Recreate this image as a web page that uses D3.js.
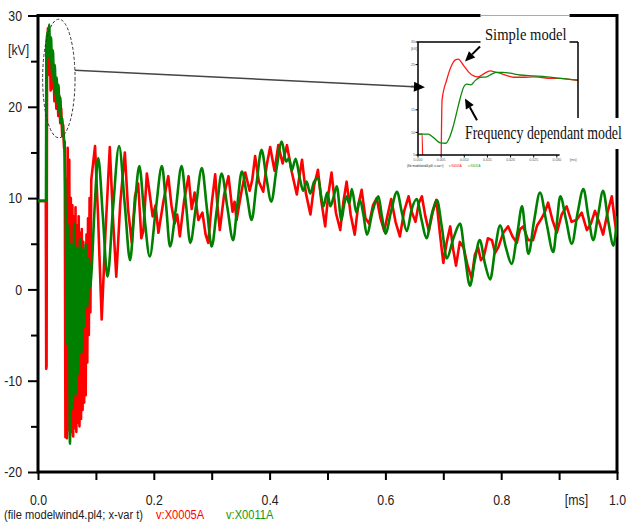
<!DOCTYPE html>
<html>
<head>
<meta charset="utf-8">
<script src="https://cdn.jsdelivr.net/npm/d3@7"></script>
<style>
  body { margin: 0; background: #fff; }
  svg { display: block; }
  .narrow { font-family: "Liberation Sans", Arial, sans-serif; }
  .serif { font-family: "Liberation Serif", "Times New Roman", serif; }
</style>
</head>
<body>
<div id="chart"></div>
<script>
// red trace, v:X0005A (simple model) : [t ms, kV]
const simpleModel = [
  [0, 9.7], [0.0135, 9.7], [0.0142, -8.7], [0.0148, -8.4], [0.0156, 24], [0.0172, 28.6], [0.0188, 23.5],
  [0.0203, 27.2], [0.0218, 21.8], [0.0234, 25.6], [0.025, 22], [0.0266, 24.2], [0.0283, 20.6], [0.03, 23],
  [0.0317, 19.8], [0.0334, 22.4], [0.035, 19], [0.0367, 21.2], [0.0384, 18.2], [0.04, 19.8], [0.0418, 16.8],
  [0.0434, 18], [0.045, 15.5], [0.0462, 16.2],
  [0.0474, -16.2], [0.0487, 12], [0.05, -16.3], [0.0513, 15.5], [0.0527, -15.4], [0.054, 14.2], [0.0554, -16],
  [0.0567, 10], [0.0581, -15.6], [0.0594, 9.2], [0.0608, -16.1], [0.0621, 8], [0.0635, -15.2], [0.0648, 9],
  [0.0662, -15.6], [0.0675, 7], [0.0689, -14.6], [0.0702, 8], [0.0716, -15], [0.0729, 6.2], [0.0743, -14.2],
  [0.0756, 6.6], [0.077, -13.2], [0.0783, 5.2], [0.0797, -12.4], [0.081, 4.2], [0.0824, -11.6], [0.0837, 6],
  [0.0851, -8], [0.0864, 7.8], [0.0878, -5], [0.0891, 10], [0.0905, -2.5], [0.092, 12],
  [0.0985, 15.7], [0.1035, 8.4], [0.11, -3.3], [0.1165, 6.2], [0.124, 15.6], [0.1295, 7.8], [0.1352, 1.4],
  [0.142, 9.4], [0.15, 15], [0.1555, 8.8], [0.162, 5.1], [0.1675, 10.2], [0.173, 11.6], [0.1785, 5.6],
  [0.182, 6.4], [0.188, 12.7], [0.1935, 10.2], [0.198, 8], [0.203, 9.2], [0.208, 6.2], [0.2165, 9.6],
  [0.225, 12.4], [0.2305, 9.2], [0.236, 7.2], [0.2405, 8.2], [0.245, 5.8], [0.2525, 9.8], [0.26, 12.4],
  [0.2655, 8.8], [0.2705, 10.6], [0.277, 7.6], [0.284, 8.4], [0.2895, 6], [0.294, 5.1], [0.3, 9.4],
  [0.306, 12.6], [0.31, 9], [0.314, 6.5], [0.3215, 10.4], [0.329, 12.4], [0.336, 8.5], [0.3395, 9.6],
  [0.343, 7.6], [0.3505, 10.4], [0.358, 12.8], [0.3655, 10.8], [0.37, 12], [0.375, 14.6], [0.3815, 11.8],
  [0.389, 10.7], [0.395, 13.6], [0.401, 15.6], [0.4085, 13], [0.415, 15.8], [0.4225, 13.8], [0.43, 15.8],
  [0.4385, 12.8], [0.447, 10.4], [0.4515, 12.4], [0.456, 14.2], [0.4625, 10.6], [0.4705, 8.2], [0.477, 11.4],
  [0.4835, 13.1], [0.4895, 9.6], [0.496, 6.9], [0.501, 10.2], [0.507, 12.8], [0.5145, 8.4], [0.522, 6.5],
  [0.5275, 9.6], [0.533, 11.8], [0.54, 8.2], [0.547, 6], [0.553, 9.2], [0.559, 10.9], [0.5655, 7.8],
  [0.572, 7.2], [0.5785, 9.2], [0.585, 10], [0.5915, 7.8], [0.598, 6.4], [0.604, 8.2], [0.61, 9.9],
  [0.6175, 7.4], [0.625, 5.8], [0.6325, 8.6], [0.64, 10.2], [0.646, 8.4], [0.652, 7.4], [0.6575, 9.4],
  [0.663, 10.2], [0.669, 8], [0.675, 6.4], [0.6815, 8.4], [0.688, 9.8], [0.694, 6.2], [0.7, 2.9],
  [0.706, 5.2], [0.712, 6.9], [0.717, 4.4], [0.722, 2.6], [0.7285, 5.2], [0.735, 4.6], [0.742, 2.6],
  [0.749, 1.2], [0.7545, 3.8], [0.76, 4.6], [0.765, 3.2], [0.77, 3.6], [0.777, 5.6], [0.784, 5.4],
  [0.7895, 4], [0.795, 4.6], [0.8035, 6.2], [0.812, 6.9], [0.8195, 5.8], [0.827, 5.1], [0.8325, 6.6],
  [0.838, 6.9], [0.8465, 5.4], [0.855, 5.4], [0.862, 7], [0.868, 7.6], [0.875, 8.4], [0.881, 9.5],
  [0.8885, 7.6], [0.896, 6.2], [0.9045, 8.2], [0.913, 9.1], [0.9215, 7.4], [0.93, 7.6], [0.939, 8.4],
  [0.948, 6.5], [0.955, 7.2], [0.962, 8.6], [0.969, 7.4], [0.976, 6], [0.9835, 8.4], [0.991, 10.2],
  [0.996, 7.6], [1.0, 5.8]
];

// green trace, v:X0011A (frequency dependant model)
const freqModel = [
  [0, 9.7], [0.0138, 9.7], [0.0144, 26.6], [0.0162, 28.2], [0.0178, 25.6], [0.0194, 29], [0.021, 25],
  [0.0226, 27.6], [0.0242, 23.6], [0.0258, 26.2], [0.0274, 22.6], [0.029, 24.6], [0.0306, 21.2],
  [0.0322, 23.2], [0.0338, 20.4], [0.0354, 22.4], [0.037, 19.4], [0.0386, 21], [0.0402, 18.2],
  [0.0418, 18.8], [0.0434, 17.4], [0.0448, 16.6], [0.0462, 14.4], [0.048, 8],
  [0.0505, -6], [0.053, 7], [0.0552, -16.9], [0.0575, 5], [0.06, -13], [0.0625, 7.2], [0.065, -11.6],
  [0.0675, 4.6], [0.07, -9.2], [0.0725, 5.6], [0.075, -7], [0.0775, 4.4], [0.08, -4], [0.0825, 5],
  [0.085, -2], [0.0875, 3.4], [0.09, 0.2], [0.092, 1.5],
  [0.0975, 8.6], [0.104, 14.4], [0.112, 8], [0.12, 1.4], [0.1295, 8.8], [0.14, 15.7], [0.15, 9.2],
  [0.159, 3.2], [0.1665, 8.6], [0.175, 13.5], [0.1835, 8.2], [0.193, 3.6], [0.2035, 8.8], [0.214, 13.5],
  [0.221, 9.4], [0.228, 4.7], [0.238, 8.8], [0.248, 13.5], [0.2555, 9.4], [0.263, 5.1], [0.273, 9.2],
  [0.283, 13.3], [0.2915, 9], [0.3, 4.7], [0.3085, 8.6], [0.317, 12.7], [0.327, 9], [0.337, 5.4],
  [0.3445, 9.4], [0.352, 12.9], [0.3605, 10.4], [0.369, 7.6], [0.3775, 11.6], [0.386, 15.3], [0.3945, 12.2],
  [0.403, 9.6], [0.412, 13.2], [0.421, 16.2], [0.4285, 14], [0.4335, 14.4], [0.438, 13], [0.445, 14.3],
  [0.452, 12.2], [0.458, 10.8], [0.464, 11.8], [0.47, 10.5], [0.477, 11.8], [0.484, 12.2], [0.4885, 10.4],
  [0.493, 9.1], [0.4995, 10.6], [0.505, 9.1], [0.51, 10], [0.516, 11.3], [0.524, 7.6], [0.5285, 9.2],
  [0.533, 10.2], [0.5375, 9.4], [0.542, 11], [0.55, 8.4], [0.556, 9.8], [0.562, 8.2], [0.568, 6],
  [0.578, 8.6], [0.588, 10.2], [0.594, 8], [0.6, 6.1], [0.61, 8.6], [0.62, 10.7], [0.6285, 8.4],
  [0.637, 6.4], [0.6455, 8.8], [0.654, 9.9], [0.6625, 7.6], [0.671, 5.6], [0.68, 8.2], [0.689, 9.8],
  [0.6975, 6.8], [0.706, 3.4], [0.7175, 5.6], [0.729, 7.2], [0.7375, 3.6], [0.746, 0.4], [0.7545, 3.2],
  [0.763, 5.4], [0.772, 2.8], [0.781, 1.1], [0.7895, 4.4], [0.798, 7], [0.808, 4.6], [0.818, 2.8],
  [0.828, 6.2], [0.836, 9.1], [0.8415, 6.4], [0.847, 3.9], [0.857, 7.6], [0.867, 10.6], [0.8785, 7.2],
  [0.89, 4.1], [0.896, 7.2], [0.902, 10.2], [0.912, 7.6], [0.922, 5], [0.932, 8.4], [0.942, 11],
  [0.9505, 8], [0.959, 5.4], [0.9675, 8.2], [0.976, 10.8], [0.985, 7.4], [0.994, 4.8], [1.0, 8]
];

// zoomed inset of the first front
const insetSimple = [
  [0.0001, 9.6], [0.0009, 9.6], [0.0012, -8.7], [0.0048, -8.7], [0.0052, 17.2], [0.0062, 21.6],
  [0.0073, 24.9], [0.008, 26], [0.0087, 26.2], [0.0098, 24.9], [0.0109, 23.4], [0.012, 22.5],
  [0.013, 22.3], [0.0141, 22.9], [0.0156, 23.6], [0.0166, 23.4], [0.0177, 23.1], [0.0192, 22.55],
  [0.0206, 22.2], [0.0228, 22.2], [0.0249, 22.3], [0.0264, 22.2], [0.0285, 21.96], [0.0307, 21.96],
  [0.0328, 21.74], [0.0346, 21.44]
];
const insetFreq = [
  [0.0001, 9.6], [0.0022, 9.6], [0.0033, 8.9], [0.0048, 7.7], [0.006, 7.6], [0.0069, 9.1], [0.0076, 11.3],
  [0.0084, 14.6], [0.0091, 17.5], [0.0099, 20.1], [0.0105, 20.7], [0.0114, 20.5], [0.0123, 21.4],
  [0.0134, 22.2], [0.0148, 22.3], [0.0159, 22.9], [0.017, 23.3], [0.0184, 23.3], [0.0199, 23.1],
  [0.022, 22.7], [0.0249, 22.5], [0.0278, 22.3], [0.0307, 21.96], [0.0346, 21.6]
];

const yTicks = [-20, -15, -10, -5, 0, 5, 10, 15, 20, 25, 30];
const yTickLabels = ["-20", "", "-10", "", "0", "", "10", "", "20", "", "30"];
const xTicks = [0, 0.1, 0.2, 0.3, 0.4, 0.5, 0.6, 0.7, 0.8, 0.9, 1.0];
const xTickLabels = ["0.0", "", "0.2", "", "0.4", "", "0.6", "", "0.8", "", "1.0"];
const insetYTicks = [5, 10, 15, 20, 25, 30];
const insetXTicks = [0, 0.005, 0.01, 0.015, 0.02, 0.025, 0.03];
const legendTexts = ["(file modelwind4.pl4; x-var t)", "v:X0005A", "v:X0011A"];
const legendColors = ["#222", "#ff0000", "#119911"];

const width = 628, height = 524;
const svg = d3.select("#chart").append("svg").attr("width", width).attr("height", height);
const defs = svg.append("defs");

// squeeze text horizontally around its anchor, the picture's labels are narrow
function narrow(sel, f) {
  sel.each(function () {
    const ax = +this.getAttribute("x") || 0;
    d3.select(this).attr("transform", `translate(${ax * (1 - f)},0) scale(${f},1)`);
  });
}

const x = d3.scaleLinear().domain([0, 1]).range([38, 617]);
const y = d3.scaleLinear().domain([-20, 30]).range([472, 15.5]);

// frame
svg.append("path").attr("d", `M${x(0)},${y(30)}H${x(1)}V${y(-20)}H${x(0)}Z`)
  .attr("fill", "none").attr("stroke", "#000").attr("stroke-width", 3);

// y axis
const yAxis = svg.append("g").attr("class", "narrow").attr("transform", `translate(${x(0)},0)`)
  .call(d3.axisLeft(y).tickValues(yTicks).tickSize(7).tickPadding(9)
    .tickFormat((d, i) => yTickLabels[i]));
yAxis.select(".domain").remove();
yAxis.selectAll(".tick line").attr("stroke", "#000").attr("stroke-width", 2)
  .attr("x2", (d, i) => (yTickLabels[i] ? -10 : -7));
yAxis.selectAll(".tick text").attr("font-size", 15).attr("fill", "#222").call(narrow, 0.82);
svg.append("text").attr("class", "narrow").attr("x", 8).attr("y", y(26.3)).attr("dy", "0.35em")
  .attr("font-size", 15).attr("fill", "#223").text("[kV]").call(narrow, 0.82);

// x axis
const xAxis = svg.append("g").attr("class", "narrow").attr("transform", `translate(0,${y(-20)})`)
  .call(d3.axisBottom(x).tickValues(xTicks).tickSize(8).tickPadding(14.5)
    .tickFormat((d, i) => xTickLabels[i]));
xAxis.select(".domain").remove();
xAxis.selectAll(".tick line").attr("stroke", "#000").attr("stroke-width", 2);
xAxis.selectAll(".tick text").attr("font-size", 14.5).attr("fill", "#222").call(narrow, 0.85);
svg.append("text").attr("class", "narrow").attr("x", x(0.93)).attr("y", 505)
  .attr("text-anchor", "middle").attr("font-size", 14.5).attr("fill", "#222").text("[ms]").call(narrow, 0.85);

// traces
const line = d3.line().x(d => x(d[0])).y(d => y(d[1]));
defs.append("clipPath").attr("id", "plotClip")
  .append("rect").attr("x", x(0)).attr("y", y(30)).attr("width", x(1) - x(0)).attr("height", y(-20) - y(30));
const traces = svg.append("g").attr("clip-path", "url(#plotClip)");
traces.append("path").datum(simpleModel).attr("d", line)
  .attr("fill", "none").attr("stroke", "#ff0000").attr("stroke-width", 2.6).attr("stroke-linejoin", "round");
traces.append("path").datum(freqModel).attr("d", line.curve(d3.curveMonotoneX))
  .attr("fill", "none").attr("stroke", "#008000").attr("stroke-width", 2.6).attr("stroke-linejoin", "round");

// legend
const legendX = [4, 156, 226];
legendTexts.forEach((t, i) => {
  svg.append("text").attr("class", "narrow").attr("x", legendX[i]).attr("y", 519.5)
    .attr("font-size", 12.5).attr("fill", legendColors[i]).text(t).call(narrow, 0.89);
});

// ---- inset ----
const ix = d3.scaleLinear().domain([0, 0.035]).range([418, 580]);
const iy = d3.scaleLinear().domain([5, 30]).range([155, 42]);
const inset = svg.append("g");
defs.append("clipPath").attr("id", "insetClip")
  .append("rect").attr("x", ix(0)).attr("y", iy(30)).attr("width", 160).attr("height", iy(5) - iy(30));
const iline = d3.line().x(d => ix(d[0])).y(d => iy(d[1])).curve(d3.curveMonotoneX);
const itraces = inset.append("g").attr("clip-path", "url(#insetClip)");
itraces.append("path").datum(insetSimple).attr("d", iline)
  .attr("fill", "none").attr("stroke", "#ff1a1a").attr("stroke-width", 1.3);
itraces.append("path").datum(insetFreq).attr("d", iline)
  .attr("fill", "none").attr("stroke", "#0a8a0a").attr("stroke-width", 1.3);

inset.append("path").attr("d", `M${ix(0) + 160},${iy(30)}H${ix(0)}V${iy(5)}H${ix(0.0306)}`)
  .attr("fill", "none").attr("stroke", "#000").attr("stroke-width", 1.5);
inset.append("line").attr("x1", ix(0) + 160).attr("x2", ix(0) + 160).attr("y1", iy(30)).attr("y2", 121)
  .attr("stroke", "#000").attr("stroke-width", 1.5);
inset.selectAll(".iyt").data(insetYTicks).enter().append("line")
  .attr("x1", ix(0) - 2.5).attr("x2", ix(0)).attr("y1", d => iy(d)).attr("y2", d => iy(d))
  .attr("stroke", "#000").attr("stroke-width", 1);
inset.selectAll(".iyl").data(insetYTicks).enter().append("text").attr("class", "narrow")
  .attr("x", ix(0) - 3).attr("y", d => iy(d)).attr("dy", "0.35em").attr("text-anchor", "end")
  .attr("font-size", 3.5).attr("fill", "#555").text(d => d);
inset.append("text").attr("class", "narrow").attr("x", ix(0) - 7).attr("y", iy(28.3))
  .attr("font-size", 3.5).attr("fill", "#555").text("[kV]");
inset.selectAll(".ixt").data(insetXTicks).enter().append("line")
  .attr("x1", d => ix(d)).attr("x2", d => ix(d)).attr("y1", iy(5)).attr("y2", iy(5) + 2.5)
  .attr("stroke", "#000").attr("stroke-width", 1);
inset.selectAll(".ixl").data(insetXTicks).enter().append("text").attr("class", "narrow")
  .attr("x", d => ix(d)).attr("y", iy(5) + 6).attr("text-anchor", "middle")
  .attr("font-size", 3.5).attr("fill", "#555").text(d => d.toFixed(3));
inset.append("text").attr("class", "narrow").attr("x", ix(0.0328)).attr("y", iy(5) + 6)
  .attr("font-size", 3.5).attr("fill", "#555").text("[ms]");
const ilegX = [407, 449, 468];
legendTexts.forEach((t, i) => {
  inset.append("text").attr("class", "narrow").attr("x", ilegX[i]).attr("y", 167)
    .attr("font-size", 3.4).attr("fill", legendColors[i]).text(t).call(narrow, 0.86);
});

// ellipse around the first front and connector to the inset
svg.append("ellipse").attr("cx", x(0.036)).attr("cy", y(23.1))
  .attr("rx", x(0.028) - x(0)).attr("ry", y(0) - y(6.5))
  .attr("fill", "none").attr("stroke", "#333").attr("stroke-width", 1).attr("stroke-dasharray", "3,2");

function arrow(g, x1, y1, x2, y2, len, half, color, sw) {
  const a = Math.atan2(y2 - y1, x2 - x1);
  const bx = x2 - len * Math.cos(a), by = y2 - len * Math.sin(a);
  g.append("line").attr("x1", x1).attr("y1", y1).attr("x2", bx).attr("y2", by)
    .attr("stroke", color).attr("stroke-width", sw);
  const px = -Math.sin(a) * half, py = Math.cos(a) * half;
  g.append("path").attr("d", `M${x2},${y2}L${bx + px},${by + py}L${bx - px},${by - py}Z`).attr("fill", "#000");
}
const ann = svg.append("g");
arrow(ann, x(0.0635), y(24), ix(0.0015), iy(20), 11, 5, "#444", 1.5);

// label boxes
ann.append("rect").attr("x", 480.5).attr("y", 13.5).attr("width", 89).attr("height", 32).attr("fill", "#fff");
ann.append("line").attr("x1", 480.5).attr("x2", 569.5).attr("y1", 15.5).attr("y2", 15.5)
  .attr("stroke", "#aaa").attr("stroke-width", 1);
ann.append("rect").attr("x", 461).attr("y", 118).attr("width", 167).attr("height", 31).attr("fill", "#fff");

ann.append("text").attr("class", "serif").attr("x", 485).attr("y", 39.6)
  .attr("font-size", 17).attr("fill", "#111").text("Simple model").call(narrow, 0.86);
ann.append("text").attr("class", "serif").attr("x", 465).attr("y", 139)
  .attr("font-size", 18).attr("fill", "#111").text("Frequency dependant model").call(narrow, 0.77);

arrow(ann, ix(0.0134), iy(29.0), ix(0.01015), iy(25.7), 10, 4.5, "#000", 2);
arrow(ann, ix(0.01275), iy(12.7), ix(0.01015), iy(17.5), 10, 4.5, "#000", 2);
</script>
</body>
</html>
